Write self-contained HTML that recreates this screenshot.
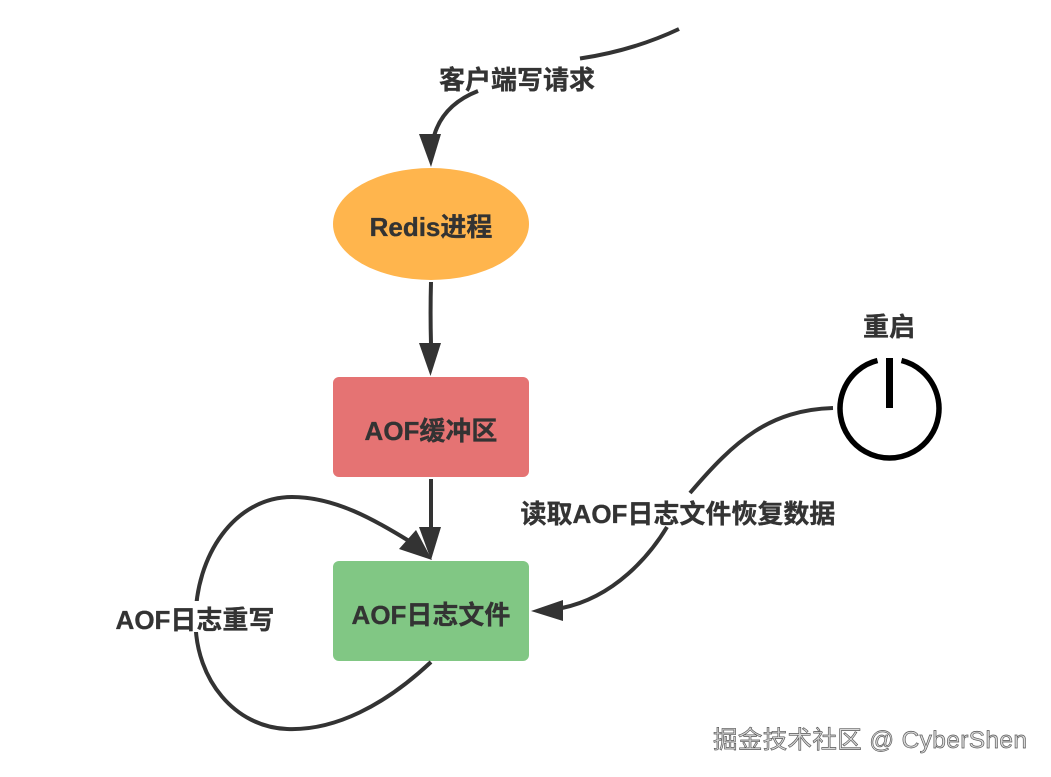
<!DOCTYPE html>
<html><head><meta charset="utf-8"><style>
html,body{margin:0;padding:0;background:#fff}
svg{display:block}
text{font-family:"Liberation Sans","Noto Sans CJK SC",sans-serif;font-weight:700;fill:#333;stroke:#333;stroke-width:.35px;font-size:26px}
</style></head><body>
<svg width="1051" height="777" viewBox="0 0 1051 777" xmlns="http://www.w3.org/2000/svg">
<rect width="1051" height="777" fill="#fff"/>
<ellipse cx="431" cy="224" rx="98" ry="56" fill="#ffb54d"/>
<rect x="333" y="377" width="196" height="100" rx="6" fill="#e57373"/>
<rect x="333" y="561" width="196" height="100" rx="6" fill="#81c784"/>
<g fill="none" stroke="#333" stroke-width="4">
<path d="M679 29C645 45 610 54 580 58.500"/>
<path d="M478 91C455 100 440 115 434 136"/>
<path d="M431 282C430.500 300 430.500 325 431 344"/>
<path d="M431 479V530"/>
<path d="M431 662C385 705 335 731 287 729C235 727 196 680 195.500 622C195 555 235 497 292 497C335 497 375 520 409 541"/>
<path d="M833 408C770 410 735 440 690 493"/>
<path d="M667 527C650 555 615 597 562 608"/>
</g>
<g fill="#333">
<path d="M419 134H441L431 167Z"/>
<path d="M419 343H441L430.500 376Z"/>
<path d="M419 527H441L431 560Z"/>
<path d="M416 530L399 549L432 560Z"/>
<path d="M531 611L563 600V621Z"/>
</g>
<rect x="115" y="601" width="160" height="31" fill="#fff"/>
<text x="517" y="89" text-anchor="middle">客户端写请求</text>
<text x="431" y="236" text-anchor="middle">Redis进程</text>
<text x="431" y="440" text-anchor="middle">AOF缓冲区</text>
<text x="431" y="624" text-anchor="middle">AOF日志文件</text>
<text x="195" y="629" text-anchor="middle">AOF日志重写</text>
<text x="678" y="523" text-anchor="middle">读取AOF日志文件恢复数据</text>
<text x="889" y="336" text-anchor="middle">重启</text>
<g fill="none" stroke="#000" stroke-linecap="butt">
<path d="M877.500 360.500A49.500 49.500 0 1 0 901.500 360.500" stroke-width="5.500"/>
<path d="M889.500 358V408" stroke-width="7"/>
</g>
<text x="713" y="748" style="font-weight:400;font-size:24.500px;letter-spacing:.35px;fill:#d8d8d8;stroke:#555;stroke-width:.65px">掘金技术社区 @ CyberShen</text>
</svg>
</body></html>
